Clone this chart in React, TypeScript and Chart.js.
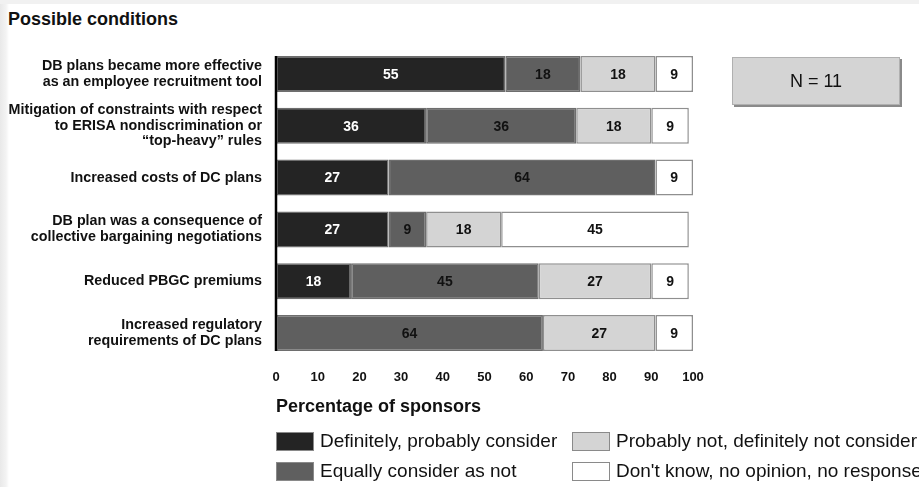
import React, { useEffect, useRef } from "react";
import { Chart, registerables } from "chart.js";

Chart.register(...registerables);

const conditions: string[][] = [
  ["DB plans became more effective", "as an employee recruitment tool"],
  ["Mitigation of constraints with respect", "to ERISA nondiscrimination or", "\u201Ctop-heavy\u201D rules"],
  ["Increased costs of DC plans"],
  ["DB plan was a consequence of", "collective bargaining negotiations"],
  ["Reduced PBGC premiums"],
  ["Increased regulatory", "requirements of DC plans"],
];

const definitelyConsider = [55, 36, 27, 27, 18, 0];
const equallyConsider = [18, 36, 64, 9, 45, 64];
const probablyNot = [18, 18, 0, 18, 27, 27];
const dontKnow = [9, 9, 9, 45, 9, 9];

const seriesNames = [
  "Definitely, probably consider",
  "Equally consider as not",
  "Probably not, definitely not consider",
  "Don't know, no opinion, no response",
];
const seriesFill = ["#242424", "#5f5f5f", "#d4d4d4", "#ffffff"];
const seriesText = ["#ffffff", "#111111", "#111111", "#111111"];

const xTicks = [0, 10, 20, 30, 40, 50, 60, 70, 80, 90, 100];

const FONT = "'Liberation Sans', Arial, Helvetica, sans-serif";

// Writes each segment's value in the middle of the segment.
const segmentLabels = {
  id: "segmentLabels",
  afterDatasetsDraw(chart: any) {
    const ctx = chart.ctx;
    ctx.save();
    ctx.font = `bold 14px ${FONT}`;
    ctx.textAlign = "center";
    ctx.textBaseline = "middle";
    chart.data.datasets.forEach((ds: any, di: number) => {
      const meta = chart.getDatasetMeta(di);
      meta.data.forEach((bar: any, i: number) => {
        const v = ds.data[i];
        if (!v) return;
        ctx.fillStyle = seriesText[di];
        ctx.fillText(String(v), (bar.x + bar.base) / 2, bar.y + 1);
      });
    });
    ctx.restore();
  },
};

// Vertical category axis line running from the first bar to the last one.
const categoryAxisLine = {
  id: "categoryAxisLine",
  afterDatasetsDraw(chart: any) {
    const meta = chart.getDatasetMeta(0);
    const bars = meta.data;
    if (!bars.length) return;
    const first = bars[0];
    const last = bars[bars.length - 1];
    const top = first.y - first.height / 2;
    const bottom = last.y + last.height / 2;
    const x = chart.chartArea.left;
    const ctx = chart.ctx;
    ctx.save();
    ctx.strokeStyle = "#000000";
    ctx.lineWidth = 2.5;
    ctx.beginPath();
    ctx.moveTo(x, top);
    ctx.lineTo(x, bottom);
    ctx.stroke();
    ctx.restore();
  },
};

function ConditionsChart() {
  const canvasRef = useRef<HTMLCanvasElement | null>(null);

  useEffect(() => {
    if (!canvasRef.current) return;
    const values = [definitelyConsider, equallyConsider, probablyNot, dontKnow];
    const chart = new Chart(canvasRef.current, {
      type: "bar",
      data: {
        labels: conditions,
        datasets: values.map((data, i) => ({
          label: seriesNames[i],
          data,
          backgroundColor: seriesFill[i],
          borderColor: i < 2 ? "#6e6e6e" : "#8f8f8f",
          borderWidth: 1.5,
          borderSkipped: false,
          barPercentage: 0.695,
          categoryPercentage: 1,
        })),
      },
      options: {
        indexAxis: "y",
        responsive: false,
        animation: false,
        layout: { padding: { left: 0, right: 226, top: 48, bottom: 69 } },
        plugins: {
          legend: { display: false },
          tooltip: { enabled: false },
          title: { display: false },
        },
        scales: {
          x: {
            stacked: true,
            min: 0,
            max: 100,
            afterBuildTicks(scale: any) {
              scale.ticks = xTicks.map((v) => ({ value: v }));
            },
            afterFit(scale: any) {
              scale.height = 59;
            },
            grid: { display: false, drawTicks: false },
            border: { display: false },
            ticks: {
              color: "#111111",
              padding: 11,
              maxRotation: 0,
              font: { family: FONT, size: 13, weight: "bold" },
            },
            title: {
              display: true,
              text: "Percentage of sponsors",
              align: "start",
              color: "#111111",
              padding: { top: 0, bottom: 0 },
              font: { family: FONT, size: 18, weight: "bold" },
            },
          },
          y: {
            stacked: true,
            afterFit(scale: any) {
              scale.width = 276;
            },
            grid: { display: false, drawTicks: false },
            border: { display: false },
            ticks: {
              color: "#111111",
              padding: 14,
              autoSkip: false,
              font: { family: FONT, size: 14.3, weight: "bold", lineHeight: 1.1 },
            },
          },
        },
      },
      plugins: [segmentLabels, categoryAxisLine],
    });
    return () => chart.destroy();
  }, []);

  return (
    <canvas
      ref={canvasRef}
      width={919}
      height={487}
      style={{ position: "absolute", left: 0, top: 0, width: 919, height: 487 }}
    />
  );
}

function LegendItem({ name, fill, left, top }: { name: string; fill: string; left: number; top: number }) {
  return (
    <div style={{ position: "absolute", left, top, height: 20, display: "flex", alignItems: "center" }}>
      <span
        style={{
          display: "inline-block",
          width: 36,
          height: 17,
          background: fill,
          border: "1px solid #8a8a8a",
          marginRight: 6,
        }}
      />
      <span style={{ fontSize: 19, color: "#111111", whiteSpace: "nowrap" }}>{name}</span>
    </div>
  );
}

export default function App() {
  return (
    <div
      style={{
        position: "absolute",
        left: 0,
        top: 0,
        width: 919,
        height: 487,
        overflow: "hidden",
        fontFamily: FONT,
        background:
          "linear-gradient(to right, #e9e9e9 0px, #f3f3f3 6px, #ffffff 9px, #ffffff 100%)",
      }}
    >
      <div style={{ position: "absolute", left: 0, top: 0, width: 919, height: 4, background: "#f1f1f1" }} />
      <div
        style={{
          position: "absolute",
          left: 8,
          top: 8,
          fontSize: 18,
          fontWeight: "bold",
          color: "#111111",
          lineHeight: "22px",
        }}
      >
        Possible conditions
      </div>
      <ConditionsChart />
      <div
        style={{
          position: "absolute",
          left: 732,
          top: 57,
          width: 166,
          height: 46,
          background: "#d4d4d4",
          border: "1px solid #b0b0b0",
          boxShadow: "2px 2px 0 #8a8a8a",
          display: "flex",
          alignItems: "center",
          justifyContent: "center",
          fontSize: 18,
          color: "#111111",
        }}
      >
        N = 11
      </div>
      <LegendItem name={seriesNames[0]} fill={seriesFill[0]} left={276} top={431} />
      <LegendItem name={seriesNames[1]} fill={seriesFill[1]} left={276} top={461} />
      <LegendItem name={seriesNames[2]} fill={seriesFill[2]} left={572} top={431} />
      <LegendItem name={seriesNames[3]} fill={seriesFill[3]} left={572} top={461} />
    </div>
  );
}
